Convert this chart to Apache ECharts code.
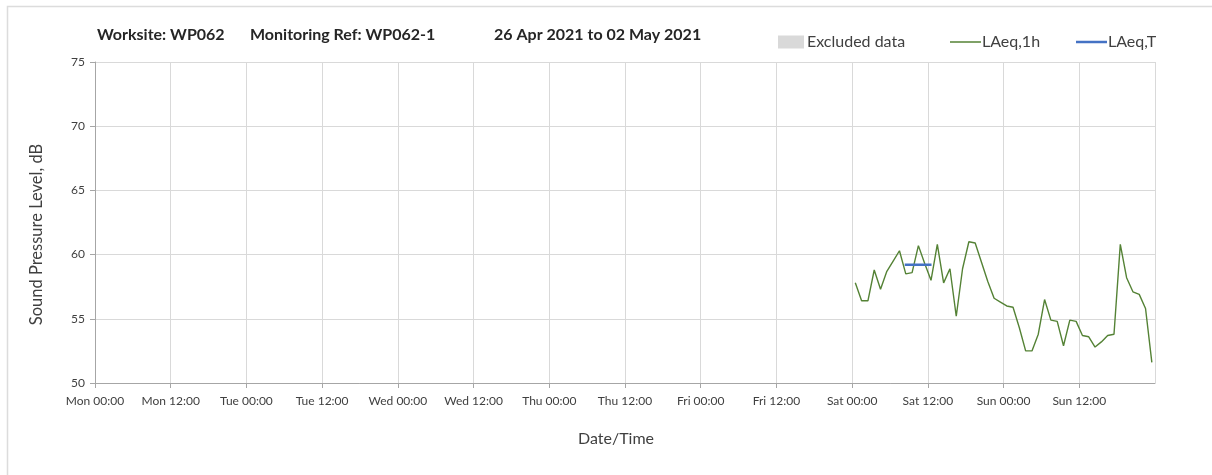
<!DOCTYPE html>
<html>
<head>
<meta charset="utf-8">
<script src="https://cdn.jsdelivr.net/npm/echarts@6/dist/echarts.min.js"></script>
<style>
  html, body { margin: 0; padding: 0; background: #fff; }
  #container { width: 1212px; height: 475px; }
</style>
</head>
<body>
<div id="container"></div>
<script>
var weekStart = '2021-04-26 00:00'
var dayNames = ['Mon', 'Tue', 'Wed', 'Thu', 'Fri', 'Sat', 'Sun']

// hourly LAeq,1h readings (Sat 1 May - Sun 2 May)
var hourTimes = [
  '2021-05-01 00:30', '2021-05-01 01:30', '2021-05-01 02:30', '2021-05-01 03:30',
  '2021-05-01 04:30', '2021-05-01 05:30', '2021-05-01 06:30', '2021-05-01 07:30',
  '2021-05-01 08:30', '2021-05-01 09:30', '2021-05-01 10:30', '2021-05-01 11:30',
  '2021-05-01 12:30', '2021-05-01 13:30', '2021-05-01 14:30', '2021-05-01 15:30',
  '2021-05-01 16:30', '2021-05-01 17:30', '2021-05-01 18:30', '2021-05-01 19:30',
  '2021-05-01 20:30', '2021-05-01 21:30', '2021-05-01 22:30', '2021-05-01 23:30',
  '2021-05-02 00:30', '2021-05-02 01:30', '2021-05-02 02:30', '2021-05-02 03:30',
  '2021-05-02 04:30', '2021-05-02 05:30', '2021-05-02 06:30', '2021-05-02 07:30',
  '2021-05-02 08:30', '2021-05-02 09:30', '2021-05-02 10:30', '2021-05-02 11:30',
  '2021-05-02 12:30', '2021-05-02 13:30', '2021-05-02 14:30', '2021-05-02 15:30',
  '2021-05-02 16:30', '2021-05-02 17:30', '2021-05-02 18:30', '2021-05-02 19:30',
  '2021-05-02 20:30', '2021-05-02 21:30', '2021-05-02 22:30', '2021-05-02 23:30'
]
var laeq1h = [
  57.8, 56.4, 56.4, 58.8, 57.3, 58.7, 59.5, 60.3,
  58.5, 58.6, 60.7, 59.3, 58.0, 60.8, 57.8, 58.9,
  55.2, 58.9, 61.0, 60.9, 59.4, 57.9, 56.6, 56.3,
  56.0, 55.9, 54.3, 52.5, 52.5, 53.8, 56.5, 54.9,
  54.8, 52.9, 54.9, 54.8, 53.7, 53.6, 52.8, 53.2,
  53.7, 53.8, 60.8, 58.2, 57.1, 56.9, 55.8, 51.6
]

// LAeq,T period
var periodTimes = ['2021-05-01 08:20', '2021-05-01 12:35']
var laeqT = [59.2, 59.2]

var excluded = []

function hoursFromStart(s) {
  var t0 = new Date(weekStart.replace(' ', 'T')).getTime()
  var t = new Date(s.replace(' ', 'T')).getTime()
  return (t - t0) / 3600000
}

function pairs(times, vals) {
  return times.map(function (t, i) {
    return [hoursFromStart(t), vals[i]]
  })
}

var labelFont = 'Lato'
var titleStyle = { fontFamily: labelFont, fontWeight: 'bold', fontSize: 16, color: '#262626' }
var legendText = { fontFamily: labelFont, fontSize: 16, color: '#404040' }
var dom = document.getElementById('container')
var myChart = echarts.init(dom)

var option = {
  backgroundColor: '#fff',
  animation: false,
  graphic: [{
    type: 'rect',
    left: 5,
    top: 4,
    shape: { width: 1230, height: 500 },
    style: { fill: 'none', stroke: '#dcdcdc', lineWidth: 1.5 },
    silent: true
  }],
  title: [{
    text: 'Worksite: WP062',
    left: 97,
    top: 27,
    padding: 0,
    textStyle: titleStyle
  }, {
    text: 'Monitoring Ref: WP062-1',
    left: 250,
    top: 27,
    padding: 0,
    textStyle: titleStyle
  }, {
    text: '26 Apr 2021 to 02 May 2021',
    left: 494,
    top: 27,
    padding: 0,
    textStyle: titleStyle
  }],
  legend: [{
    data: [{ name: 'Excluded data', icon: 'rect' }],
    left: 773,
    top: 29,
    itemWidth: 26,
    itemHeight: 13,
    itemGap: 3,
    textStyle: Object.assign({ padding: [0, 0, 0, -2] }, legendText)
  }, {
    data: [{ name: 'LAeq,1h', icon: 'rect' }],
    left: 945,
    top: 29,
    itemWidth: 31,
    itemHeight: 1.5,
    textStyle: Object.assign({ padding: [0, 0, 0, -4] }, legendText)
  }, {
    data: [{ name: 'LAeq,T', icon: 'rect' }],
    left: 1071,
    top: 29,
    itemWidth: 31,
    itemHeight: 2.5,
    textStyle: Object.assign({ padding: [0, 0, 0, -4] }, legendText)
  }],
  grid: {
    left: 95,
    right: 57,
    top: 62,
    bottom: 92
  },
  xAxis: {
    type: 'value',
    min: 0,
    max: 168,
    interval: 12,
    name: 'Date/Time',
    nameLocation: 'middle',
    nameGap: 48,
    nameTextStyle: { fontFamily: labelFont, fontSize: 16, color: '#404040', padding: [0, 18, 0, 0] },
    axisLine: { lineStyle: { color: '#a6a6a6', width: 1 } },
    axisTick: { show: true, length: 5, lineStyle: { color: '#a6a6a6' } },
    axisLabel: {
      margin: 12,
      fontFamily: labelFont,
      fontSize: 12,
      color: '#404040',
      showMaxLabel: false,
      formatter: function (v) {
        if (v >= 168) return ''
        var day = dayNames[Math.floor(v / 24)]
        return day + (v % 24 === 0 ? ' 00:00' : ' 12:00')
      }
    },
    splitLine: { show: true, lineStyle: { color: '#d9d9d9', width: 1 } }
  },
  yAxis: {
    type: 'value',
    min: 50,
    max: 75,
    interval: 5,
    name: 'Sound Pressure Level, dB',
    nameLocation: 'middle',
    nameGap: 50,
    nameTextStyle: { fontFamily: labelFont, fontSize: 16.5, color: '#404040', padding: [0, 24, 0, 0] },
    axisLine: { show: true, lineStyle: { color: '#a6a6a6', width: 1 } },
    axisTick: { show: true, length: 5, lineStyle: { color: '#a6a6a6' } },
    axisLabel: { margin: 10, fontFamily: labelFont, fontSize: 12, color: '#404040' },
    splitLine: { show: true, lineStyle: { color: '#d9d9d9', width: 1 } }
  },
  series: [{
    name: 'Excluded data',
    type: 'bar',
    itemStyle: { color: '#d9d9d9' },
    data: excluded
  }, {
    name: 'LAeq,1h',
    type: 'line',
    symbol: 'none',
    lineStyle: { color: '#548235', width: 1.4 },
    itemStyle: { color: '#548235' },
    data: pairs(hourTimes, laeq1h)
  }, {
    name: 'LAeq,T',
    type: 'line',
    symbol: 'none',
    z: 3,
    lineStyle: { color: '#4472c4', width: 2.5 },
    itemStyle: { color: '#4472c4' },
    data: pairs(periodTimes, laeqT)
  }]
}

myChart.setOption(option)
</script>
</body>
</html>
